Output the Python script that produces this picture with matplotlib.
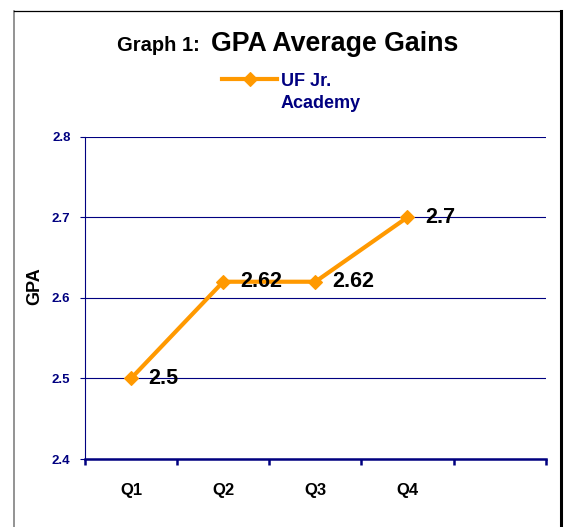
import matplotlib.pyplot as plt
from matplotlib.lines import Line2D

plt.rcParams['font.family'] = ['Liberation Sans', 'DejaVu Sans']

# data
quarters = ['Q1', 'Q2', 'Q3', 'Q4']
gpa = [2.5, 2.62, 2.62, 2.7]
series_name = ['UF Jr.', 'Academy']
y_ticks = [2.4, 2.5, 2.6, 2.7, 2.8]

navy = '#000080'
orange = '#FF9900'

W, H = 566, 527
fig = plt.figure(figsize=(W / 100, H / 100), dpi=100)
ax = fig.add_axes([85 / W, 1 - 459 / H, 460.7 / W, 322.3 / H])

x = list(range(len(quarters)))
ax.plot(x, gpa, color=orange, linewidth=3, marker='D', markersize=7.5,
        markeredgewidth=0.8, solid_joinstyle='miter', zorder=3, clip_on=False)

for xi, v in zip(x, gpa):
    ax.annotate(f'{v:g}', (xi, v), xytext=(12.5, 0), textcoords='offset points',
                ha='left', va='center', fontsize=15.5, fontweight='bold', color='black')

# 5 category slots, last one empty
ax.set_xlim(-0.5, 4.5)
ax.set_ylim(2.4, 2.8)
ax.set_xticks([i - 0.5 for i in range(6)])
ax.set_xticklabels([])
ax.set_xticks(x, minor=True)
ax.set_xticklabels(quarters, minor=True, fontsize=12, fontweight='bold')
ax.tick_params(axis='x', which='minor', length=0, pad=17)
ax.tick_params(axis='x', which='major', direction='out', length=4.5, width=1.8, color=navy)

ax.set_yticks(y_ticks)
ax.set_yticklabels([f'{t:.1f}' for t in y_ticks], fontsize=9.5, fontweight='bold', color=navy)
ax.tick_params(axis='y', direction='out', length=3.5, width=0.8, color=navy, pad=7)
ax.yaxis.grid(True, color=navy, linewidth=0.8)
ax.set_axisbelow(True)

for s in ['top', 'right']:
    ax.spines[s].set_visible(False)
ax.spines['left'].set_color(navy)
ax.spines['left'].set_linewidth(0.8)
ax.spines['bottom'].set_color(navy)
ax.spines['bottom'].set_linewidth(1.8)
ax.spines['bottom'].set_zorder(4)

fig.text(35 / W, 1 - 286 / H, 'GPA', fontsize=13, fontweight='bold', rotation=90,
         ha='center', va='center')

# title in two sizes
fig.text(117 / W, 1 - 51 / H, 'Graph 1:', fontsize=14.5, fontweight='bold', ha='left', va='baseline')
fig.text(211 / W, 1 - 51 / H, 'GPA Average Gains', fontsize=19.3, fontweight='bold', ha='left', va='baseline')

# legend
fig.add_artist(Line2D([222 / W, 277 / W], [1 - 79 / H, 1 - 79 / H], color=orange, linewidth=3,
                      transform=fig.transFigure))
fig.add_artist(Line2D([250 / W], [1 - 79 / H], color=orange, marker='D', markersize=7.5,
                      markeredgewidth=0.8, transform=fig.transFigure))
for i, line in enumerate(series_name):
    fig.text(281 / W, 1 - (86 + 22 * i) / H, line, fontsize=13, fontweight='bold', color=navy,
             ha='left', va='baseline')

# chart frame
fig.add_artist(Line2D([14 / W, 14 / W], [0, 1 - 11 / H], color='#808080', linewidth=1.2,
                      transform=fig.transFigure))
fig.add_artist(Line2D([14 / W, 561 / W], [1 - 11 / H, 1 - 11 / H], color='black', linewidth=0.9,
                      transform=fig.transFigure))
fig.add_artist(Line2D([561 / W, 561 / W], [0, 1 - 11 / H], color='black', linewidth=2.2,
                      transform=fig.transFigure))

fig.savefig('out.png', dpi=100)
